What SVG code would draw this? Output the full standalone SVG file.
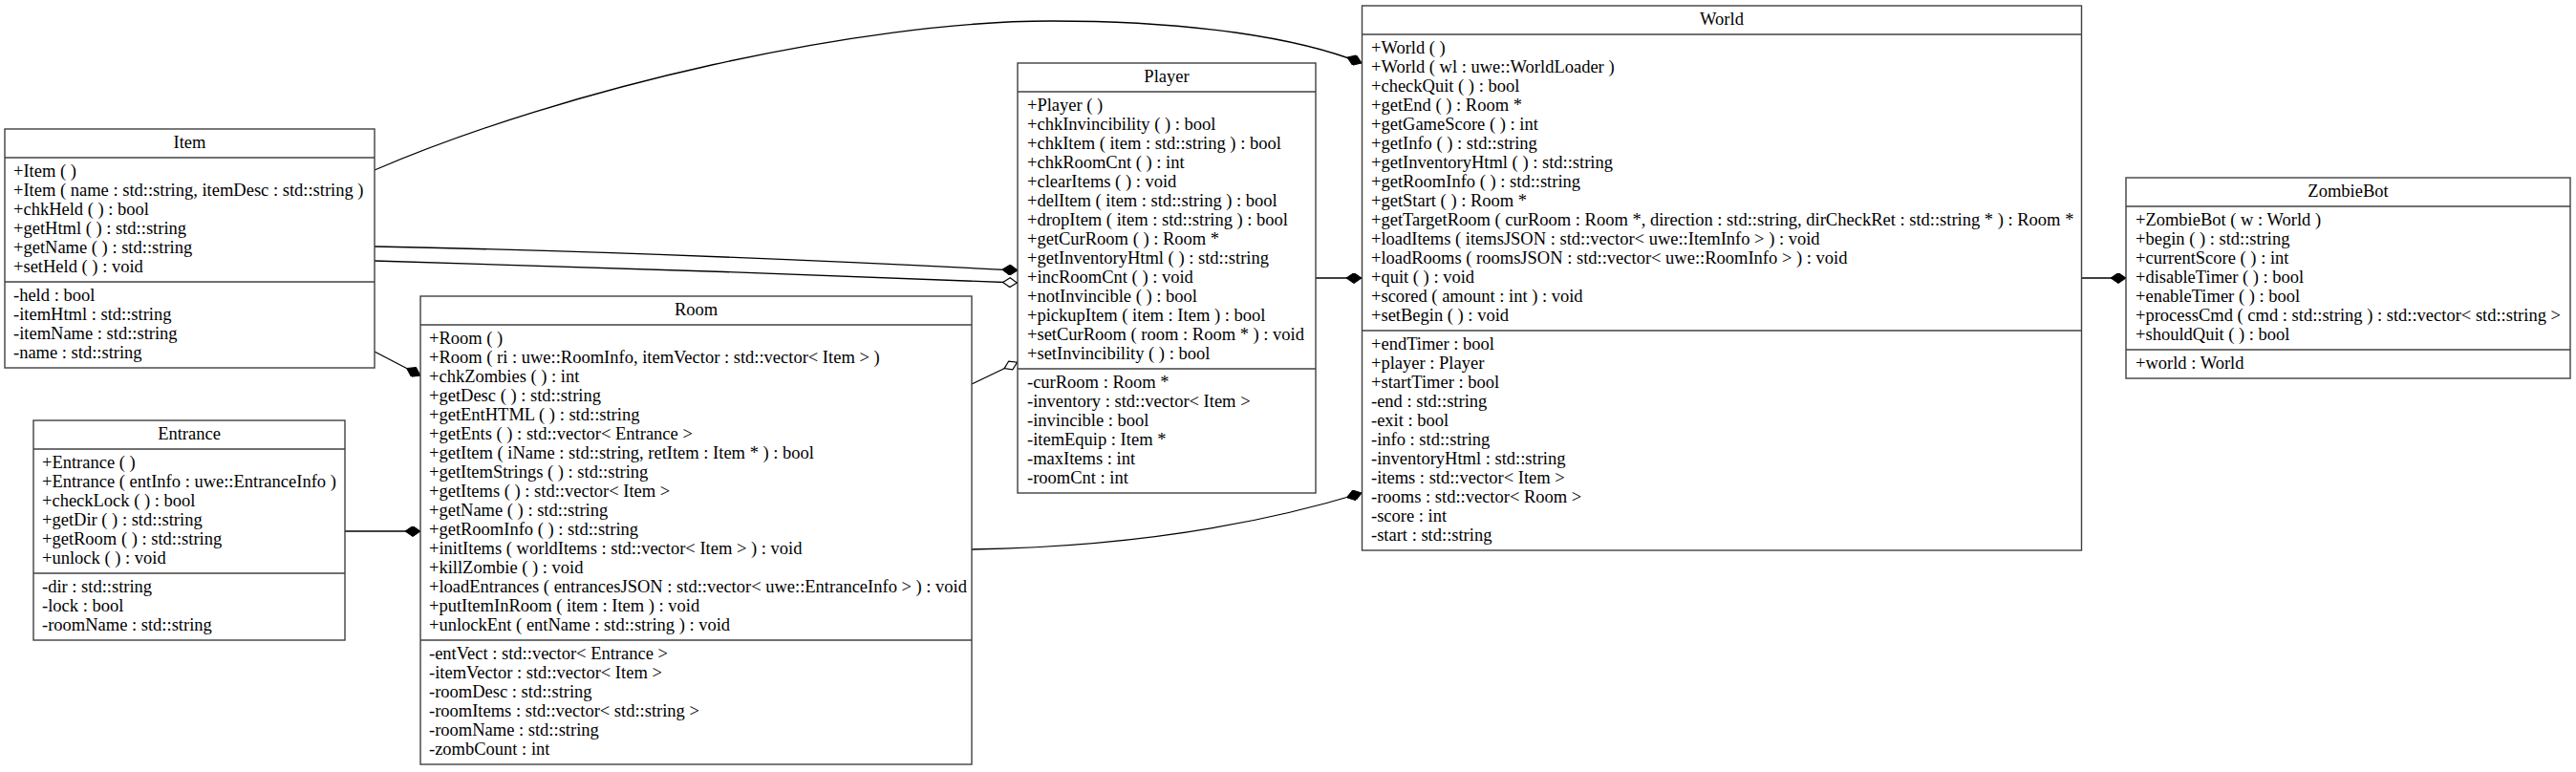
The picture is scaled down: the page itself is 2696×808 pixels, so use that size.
<svg xmlns="http://www.w3.org/2000/svg" width="2696" height="808" viewBox="0 0 2696 808">
<style>
.box{fill:#fff;stroke:#404040;stroke-width:1.4}
.sep{stroke:#404040;stroke-width:1.4}
text{font-family:"Liberation Serif","Times New Roman",serif;font-size:18.5px;fill:#000}
.t{text-anchor:middle}
.edge{fill:none;stroke:#000;stroke-width:1.3}
</style>
<defs>
<marker id="fd" viewBox="0 0 16 11" refX="16" refY="5.5" markerWidth="16" markerHeight="11" markerUnits="userSpaceOnUse" orient="auto">
<path d="M0,5.5 L8,0 L16,5.5 L8,11 Z" fill="#000" stroke="#000" stroke-width="1"/>
</marker>
<marker id="hd" viewBox="0 0 16 11" refX="16" refY="5.5" markerWidth="16" markerHeight="11" markerUnits="userSpaceOnUse" orient="auto">
<path d="M0.6,5.5 L8,0.6 L15.4,5.5 L8,10.4 Z" fill="#fff" stroke="#000" stroke-width="1.2"/>
</marker>
</defs>
<rect width="2696" height="808" fill="#fff"/>
<g id="connectors">
<path class="edge" marker-end="url(#fd)" d="M392,178 C592,92 900,22 1100,22 C1250,22 1360,40 1425,66"/>
<path class="edge" marker-end="url(#fd)" d="M392,258 C600,262 850,272 1065,283"/>
<path class="edge" marker-end="url(#hd)" d="M392,273 C600,278 850,288 1065,296"/>
<path class="edge" marker-end="url(#hd)" d="M1017,402 L1065,379"/>
<path class="edge" marker-end="url(#fd)" d="M1377,291 L1425,291"/>
<path class="edge" marker-end="url(#fd)" d="M1017,575 C1200,572 1330,545 1425,516"/>
<path class="edge" marker-end="url(#fd)" d="M392,368 L440,393"/>
<path class="edge" marker-end="url(#fd)" d="M361,556 L440,556"/>
<path class="edge" marker-end="url(#fd)" d="M2178.5,291 L2225,291"/>
</g>
<g id="Item">
<rect class="box" x="5" y="135" width="387" height="250"/>
<line class="sep" x1="5" y1="165" x2="392" y2="165"/>
<line class="sep" x1="5" y1="295" x2="392" y2="295"/>
<text class="t" x="198.5" y="155">Item</text>
<text x="14" y="185">+Item ( )</text>
<text x="14" y="205">+Item ( name : std::string, itemDesc : std::string )</text>
<text x="14" y="225">+chkHeld ( ) : bool</text>
<text x="14" y="245">+getHtml ( ) : std::string</text>
<text x="14" y="265">+getName ( ) : std::string</text>
<text x="14" y="285">+setHeld ( ) : void</text>
<text x="14" y="315">-held : bool</text>
<text x="14" y="335">-itemHtml : std::string</text>
<text x="14" y="355">-itemName : std::string</text>
<text x="14" y="375">-name : std::string</text>
</g>
<g id="Entrance">
<rect class="box" x="35" y="440" width="326" height="230"/>
<line class="sep" x1="35" y1="470" x2="361" y2="470"/>
<line class="sep" x1="35" y1="600" x2="361" y2="600"/>
<text class="t" x="198" y="460">Entrance</text>
<text x="44" y="490">+Entrance ( )</text>
<text x="44" y="510">+Entrance ( entInfo : uwe::EntranceInfo )</text>
<text x="44" y="530">+checkLock ( ) : bool</text>
<text x="44" y="550">+getDir ( ) : std::string</text>
<text x="44" y="570">+getRoom ( ) : std::string</text>
<text x="44" y="590">+unlock ( ) : void</text>
<text x="44" y="620">-dir : std::string</text>
<text x="44" y="640">-lock : bool</text>
<text x="44" y="660">-roomName : std::string</text>
</g>
<g id="Room">
<rect class="box" x="440" y="310" width="577" height="490"/>
<line class="sep" x1="440" y1="340" x2="1017" y2="340"/>
<line class="sep" x1="440" y1="670" x2="1017" y2="670"/>
<text class="t" x="728.5" y="330">Room</text>
<text x="449" y="360">+Room ( )</text>
<text x="449" y="380">+Room ( ri : uwe::RoomInfo, itemVector : std::vector&lt; Item &gt; )</text>
<text x="449" y="400">+chkZombies ( ) : int</text>
<text x="449" y="420">+getDesc ( ) : std::string</text>
<text x="449" y="440">+getEntHTML ( ) : std::string</text>
<text x="449" y="460">+getEnts ( ) : std::vector&lt; Entrance &gt;</text>
<text x="449" y="480">+getItem ( iName : std::string, retItem : Item * ) : bool</text>
<text x="449" y="500">+getItemStrings ( ) : std::string</text>
<text x="449" y="520">+getItems ( ) : std::vector&lt; Item &gt;</text>
<text x="449" y="540">+getName ( ) : std::string</text>
<text x="449" y="560">+getRoomInfo ( ) : std::string</text>
<text x="449" y="580">+initItems ( worldItems : std::vector&lt; Item &gt; ) : void</text>
<text x="449" y="600">+killZombie ( ) : void</text>
<text x="449" y="620">+loadEntrances ( entrancesJSON : std::vector&lt; uwe::EntranceInfo &gt; ) : void</text>
<text x="449" y="640">+putItemInRoom ( item : Item ) : void</text>
<text x="449" y="660">+unlockEnt ( entName : std::string ) : void</text>
<text x="449" y="690">-entVect : std::vector&lt; Entrance &gt;</text>
<text x="449" y="710">-itemVector : std::vector&lt; Item &gt;</text>
<text x="449" y="730">-roomDesc : std::string</text>
<text x="449" y="750">-roomItems : std::vector&lt; std::string &gt;</text>
<text x="449" y="770">-roomName : std::string</text>
<text x="449" y="790">-zombCount : int</text>
</g>
<g id="Player">
<rect class="box" x="1065" y="66" width="312" height="450"/>
<line class="sep" x1="1065" y1="96" x2="1377" y2="96"/>
<line class="sep" x1="1065" y1="386" x2="1377" y2="386"/>
<text class="t" x="1221" y="86">Player</text>
<text x="1075" y="116">+Player ( )</text>
<text x="1075" y="136">+chkInvincibility ( ) : bool</text>
<text x="1075" y="156">+chkItem ( item : std::string ) : bool</text>
<text x="1075" y="176">+chkRoomCnt ( ) : int</text>
<text x="1075" y="196">+clearItems ( ) : void</text>
<text x="1075" y="216">+delItem ( item : std::string ) : bool</text>
<text x="1075" y="236">+dropItem ( item : std::string ) : bool</text>
<text x="1075" y="256">+getCurRoom ( ) : Room *</text>
<text x="1075" y="276">+getInventoryHtml ( ) : std::string</text>
<text x="1075" y="296">+incRoomCnt ( ) : void</text>
<text x="1075" y="316">+notInvincible ( ) : bool</text>
<text x="1075" y="336">+pickupItem ( item : Item ) : bool</text>
<text x="1075" y="356">+setCurRoom ( room : Room * ) : void</text>
<text x="1075" y="376">+setInvincibility ( ) : bool</text>
<text x="1075" y="406">-curRoom : Room *</text>
<text x="1075" y="426">-inventory : std::vector&lt; Item &gt;</text>
<text x="1075" y="446">-invincible : bool</text>
<text x="1075" y="466">-itemEquip : Item *</text>
<text x="1075" y="486">-maxItems : int</text>
<text x="1075" y="506">-roomCnt : int</text>
</g>
<g id="World">
<rect class="box" x="1425.5" y="6" width="753" height="570"/>
<line class="sep" x1="1425.5" y1="36" x2="2178.5" y2="36"/>
<line class="sep" x1="1425.5" y1="346" x2="2178.5" y2="346"/>
<text class="t" x="1802" y="26">World</text>
<text x="1435" y="56">+World ( )</text>
<text x="1435" y="76">+World ( wl : uwe::WorldLoader )</text>
<text x="1435" y="96">+checkQuit ( ) : bool</text>
<text x="1435" y="116">+getEnd ( ) : Room *</text>
<text x="1435" y="136">+getGameScore ( ) : int</text>
<text x="1435" y="156">+getInfo ( ) : std::string</text>
<text x="1435" y="176">+getInventoryHtml ( ) : std::string</text>
<text x="1435" y="196">+getRoomInfo ( ) : std::string</text>
<text x="1435" y="216">+getStart ( ) : Room *</text>
<text x="1435" y="236">+getTargetRoom ( curRoom : Room *, direction : std::string, dirCheckRet : std::string * ) : Room *</text>
<text x="1435" y="256">+loadItems ( itemsJSON : std::vector&lt; uwe::ItemInfo &gt; ) : void</text>
<text x="1435" y="276">+loadRooms ( roomsJSON : std::vector&lt; uwe::RoomInfo &gt; ) : void</text>
<text x="1435" y="296">+quit ( ) : void</text>
<text x="1435" y="316">+scored ( amount : int ) : void</text>
<text x="1435" y="336">+setBegin ( ) : void</text>
<text x="1435" y="366">+endTimer : bool</text>
<text x="1435" y="386">+player : Player</text>
<text x="1435" y="406">+startTimer : bool</text>
<text x="1435" y="426">-end : std::string</text>
<text x="1435" y="446">-exit : bool</text>
<text x="1435" y="466">-info : std::string</text>
<text x="1435" y="486">-inventoryHtml : std::string</text>
<text x="1435" y="506">-items : std::vector&lt; Item &gt;</text>
<text x="1435" y="526">-rooms : std::vector&lt; Room &gt;</text>
<text x="1435" y="546">-score : int</text>
<text x="1435" y="566">-start : std::string</text>
</g>
<g id="ZombieBot">
<rect class="box" x="2225" y="186" width="465" height="210"/>
<line class="sep" x1="2225" y1="216" x2="2690" y2="216"/>
<line class="sep" x1="2225" y1="366" x2="2690" y2="366"/>
<text class="t" x="2457.5" y="206">ZombieBot</text>
<text x="2235" y="236">+ZombieBot ( w : World )</text>
<text x="2235" y="256">+begin ( ) : std::string</text>
<text x="2235" y="276">+currentScore ( ) : int</text>
<text x="2235" y="296">+disableTimer ( ) : bool</text>
<text x="2235" y="316">+enableTimer ( ) : bool</text>
<text x="2235" y="336">+processCmd ( cmd : std::string ) : std::vector&lt; std::string &gt;</text>
<text x="2235" y="356">+shouldQuit ( ) : bool</text>
<text x="2235" y="386">+world : World</text>
</g>
</svg>
